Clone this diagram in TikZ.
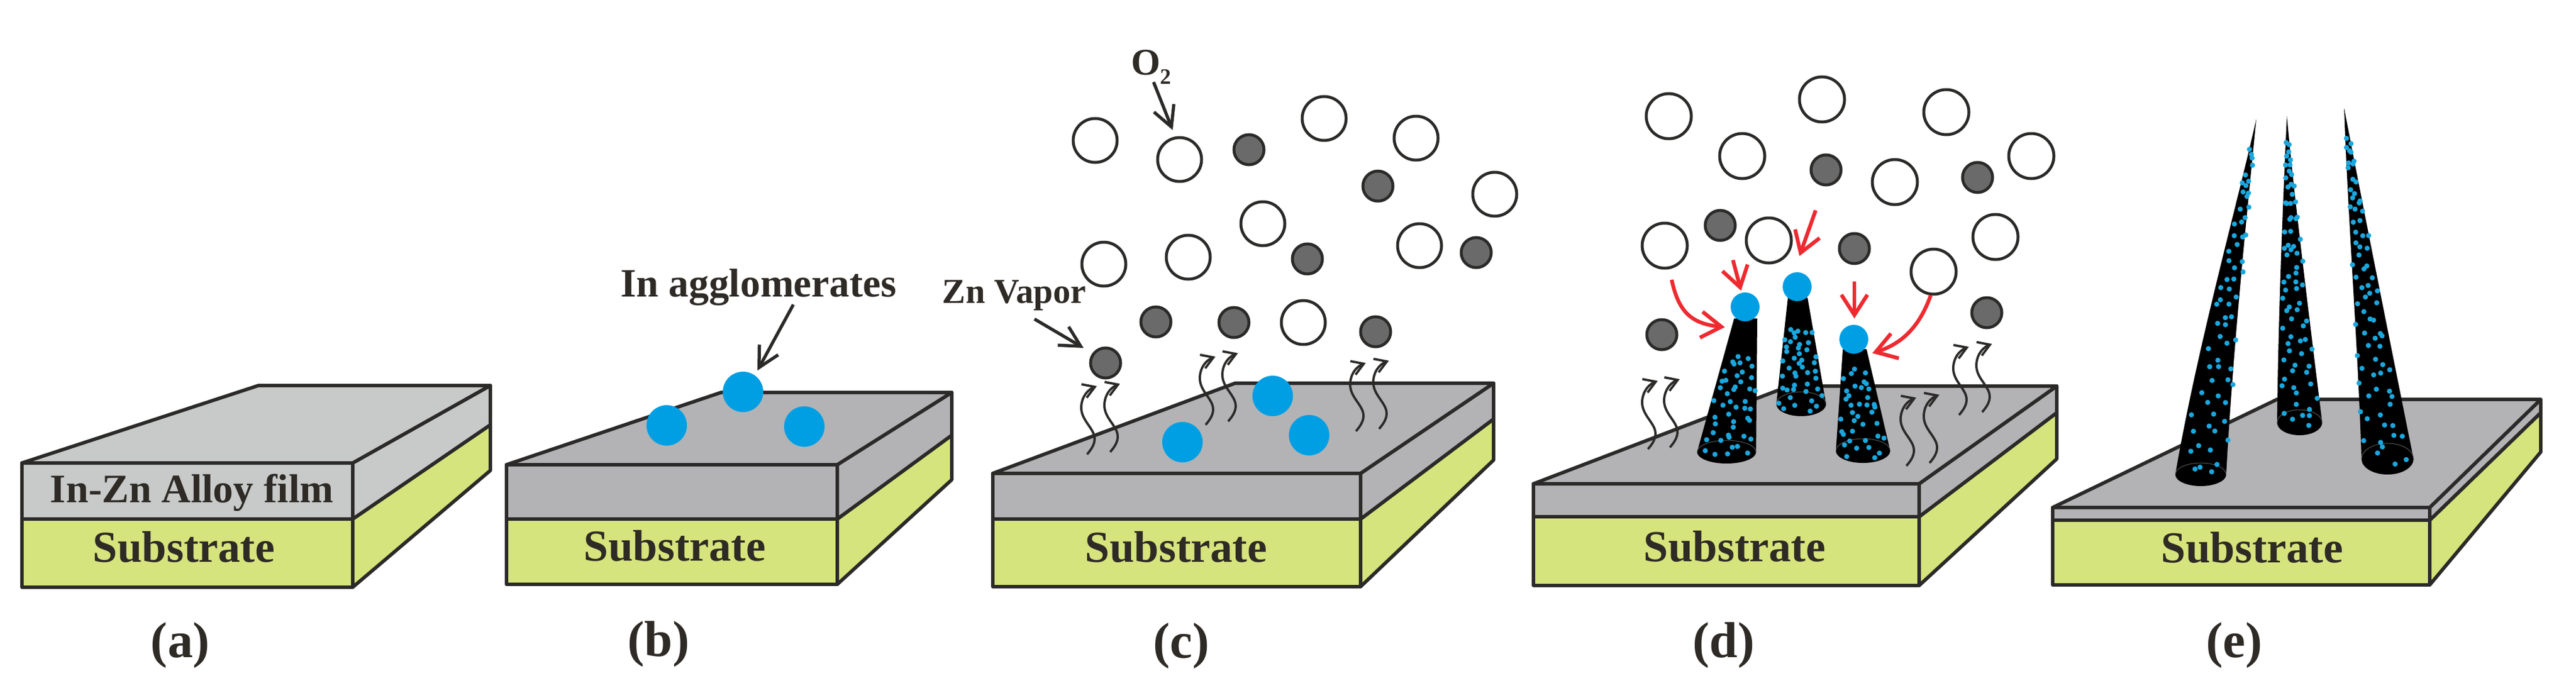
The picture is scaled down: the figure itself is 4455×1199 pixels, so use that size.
\documentclass[tikz,border=0pt]{standalone}
\usepackage{fontspec}
\setmainfont{Liberation Serif}
\usetikzlibrary{arrows.meta}
\definecolor{inkline}{HTML}{2B2A29}
\definecolor{inktext}{HTML}{2E2A25}
\definecolor{filma}{HTML}{C8CACA}
\definecolor{filmb}{HTML}{B3B3B5}
\definecolor{subst}{HTML}{D5E47C}
\definecolor{agglo}{HTML}{009FE3}
\definecolor{dotblue}{HTML}{1AA7DE}
\definecolor{zinc}{HTML}{6A6A6A}
\definecolor{redarrow}{HTML}{EE2A30}
\tikzset{
  face/.style={draw=inkline,line width=1.2pt,line join=round},
  lab/.style={inner sep=0pt,text=inktext,font=\bfseries},
  subname/.style={lab,font=\fontsize{15.3}{18}\selectfont\bfseries},
  tag/.style={lab,font=\fontsize{17.5}{20}\selectfont\bfseries},
  oxy/.style={draw=inkline,line width=1pt,fill=white},
  zn/.style={draw=inkline,line width=1pt,fill=zinc},
  blob/.style={fill=agglo},
  wave/.style={draw=inkline,line width=.8pt,-{Straight Barb[length=4pt,width=5pt]}},
  point/.style={draw=inkline,line width=1.1pt,-{Straight Barb[length=7pt,width=7.4pt]}},
  red/.style={draw=redarrow,line width=1.3pt,-{Straight Barb[length=7pt,width=9pt]}},
  cone/.style={fill=black},
  rim/.style={draw=black!65,line width=.2pt},
  speck/.style={fill=dotblue},
}
% one wavy vapour line, tail at #1,#2
\newcommand\wavy[2]{\draw[wave,shift={(#1,#2)}] (0,0) .. controls (12,-14) and (18,-26) .. (8,-42) .. controls (0,-56) and (-14,-68) .. (-9,-90) .. controls (-6,-104) and (4,-113) .. (17,-118);}
% specks on a cone: base x,y, half width, top x,y, half width, count, reach
\newcommand\specks[8]{%
  \foreach \k in {1,...,#7}{
    \pgfmathsetmacro\dotT{(\k-.5+1.5*rand)/#7*#8}
    \pgfmathsetmacro\dotU{2*mod(\k*.618034,1)-1+.25*rand}
    \pgfmathsetmacro\dotU{max(-1,min(1,\dotU))}
    \pgfmathsetmacro\dotX{#1+\dotT*(#4-#1)+\dotU*.97*(#3+\dotT*(#6-#3))}
    \pgfmathsetmacro\dotY{#2+\dotT*(#5-#2)+10*(1-\dotT)}
    \fill[speck] (\dotX,\dotY) circle[radius=4.5];
  }}
\begin{document}
\begin{tikzpicture}[x=.2pt,y=-.2pt]
\useasboundingbox (0,0) rectangle (4455,1199);

% the five slabs
\foreach \xl/\xr/\yt/\ym/\yb/\bx/\by/\brx/\yrf/\yrb/\fc in {
  38/610/801/898/1016/447/667/848/735/814/filma,
  876/1448/804/898/1011/1247/679/1646/753/830/filmb,
  1717/2353/819/898/1015/2136/663/2583/725/796/filmb,
  2652/3319/837/894/1013/3094/668/3557/714/794/filmb,
  3550/4202/878/900/1012/3938/691/4394/714/782/filmb}{
  \draw[face,fill=subst] (\xl,\ym) rectangle (\xr,\yb);
  \draw[face,fill=subst] (\xr,\ym) -- (\brx,\yrf) -- (\brx,\yrb) -- (\xr,\yb) -- cycle;
  \draw[face,fill=\fc] (\xl,\yt) rectangle (\xr,\ym);
  \draw[face,fill=\fc] (\xr,\yt) -- (\brx,\by) -- (\brx,\yrf) -- (\xr,\ym) -- cycle;
  \draw[face,fill=\fc] (\xl,\yt) -- (\bx,\by) -- (\brx,\by) -- (\xr,\yt) -- cycle;
}

% texts on the slabs and panel letters
\node[lab,font=\fontsize{14}{17}\selectfont\bfseries] (film) at (332,852) {In-Zn Alloy film};
\foreach \p/\sx/\sy/\lx/\ly in {a/318/946/312/1116, b/1167/944/1139/1114, c/2034/946/2043/1117, d/3000/945/2981/1116, e/3895/947/3864/1116}{
  \node[subname] (sub\p) at (\sx,\sy) {Substrate};
  \node[tag] (tag\p) at (\lx,\ly) {(\p)};
}

% panel b
\foreach \x/\y in {1153/736,1285/678,1391/738} {\fill[blob] (\x,\y) circle[radius=35];}
\node[lab,font=\fontsize{13.9}{16}\selectfont\bfseries] (inagg) at (1312,497) {In agglomerates};
\coordinate (inaggend) at (1310,641);
\draw[point] (1372,527) -- (inaggend);

% panel c
\foreach \x/\y in {2045/765,2201/685,2264/753} {\fill[blob] (\x,\y) circle[radius=35];}
\foreach \x/\y in {1894/243,2040/276,2290/205,2449/239,2585/336,2184/387,2455/425,2055/445,1909/457,2254/558}
  {\draw[oxy] (\x,\y) circle[radius=38];}
\foreach \x/\y in {2160/259,2383/322,2261/448,2553/437,1999/557,2134/558,2379/574,1912/628}
  {\draw[zn] (\x,\y) circle[radius=26];}
\node[lab,anchor=base,font=\fontsize{13}{16}\selectfont\bfseries] (otwo) at (1991,129) {O\raisebox{-3.2pt}{\fontsize{7.6}{9}\selectfont 2}};
\coordinate (otwoend) at (2028,225);
\draw[point] (1995,142) -- (otwoend);
\node[lab,font=\fontsize{12.1}{14}\selectfont\bfseries] (znv) at (1754,511) {Zn Vapor};
\coordinate (znvend) at (1874,602);
\draw[point] (1789,552) -- (znvend);
\foreach \x/\y in {1880/786,1920/782,2085/735,2124/729,2345/746,2385/742} {\wavy{\x}{\y}}

% panel d
\foreach \x/\y in {2850/777,2888/774,3297/806,3337/801,3388/718,3428/713} {\wavy{\x}{\y}}
\foreach \x/\y in {2886/201,3013/270,3151/172,3366/194,3277/315,3513/270,2879/425,3059/416,3451/410,3344/470}
  {\draw[oxy] (\x,\y) circle[radius=39];}
\foreach \x/\y in {3158/294,3420/307,2975/390,3207/430,2874/579,3436/541}
  {\draw[zn] (\x,\y) circle[radius=26];}
\pgfmathsetseed{4711}
\fill[cone] (2999,551) -- (3039,551) -- (3037,782) arc[start angle=0,end angle=180,x radius=51,y radius=20] -- cycle;
\draw[rim] (2935,782) arc[start angle=180,end angle=360,x radius=51,y radius=20];
\specks{2986}{782}{49}{3019}{551}{19}{46}{.74}
\fill[cone] (3092,515) -- (3126,515) -- (3158,699) arc[start angle=0,end angle=180,x radius=43,y radius=21] -- cycle;
\draw[rim] (3072,699) arc[start angle=180,end angle=360,x radius=43,y radius=21];
\specks{3115}{699}{41}{3109}{515}{16}{44}{.74}
\fill[cone] (3187,604) -- (3228,604) -- (3269,780) arc[start angle=0,end angle=180,x radius=47,y radius=21] -- cycle;
\draw[rim] (3175,780) arc[start angle=180,end angle=360,x radius=47,y radius=21];
\specks{3222}{780}{45}{3207}{604}{19}{38}{.8}
\foreach \x/\y in {3018/531,3108/496,3206/587} {\fill[blob] (\x,\y) circle[radius=25];}
\coordinate (rone) at (2983,566);
\coordinate (rtwo) at (3011,503);
\coordinate (rthree) at (3112,443);
\coordinate (rfour) at (3207,551);
\coordinate (rfive) at (3238,611);
\draw[red] (2891,484) .. controls (2903,540) and (2925,560) .. (rone);
\draw[red] (2997,450) -- (rtwo);
\draw[red] (3140,364) -- (rthree);
\draw[red] (3207,487) -- (rfour);
\draw[red] (3339,511) .. controls (3318,570) and (3285,596) .. (rfive);

% panel e
\fill[cone] (3902,206) .. controls (3885,380) and (3862,600) .. (3850,821) arc[start angle=0,end angle=180,x radius=44,y radius=20] .. controls (3800,600) and (3870,350) .. cycle;
\draw[rim] (3762,821) arc[start angle=180,end angle=360,x radius=44,y radius=20];
\specks{3806}{821}{42}{3902}{206}{1}{66}{.92}
\fill[cone] (3955,200) .. controls (3965,320) and (3995,560) .. (4016,731) arc[start angle=0,end angle=180,x radius=39,y radius=22] .. controls (3940,550) and (3948,350) .. cycle;
\draw[rim] (3938,731) arc[start angle=180,end angle=360,x radius=39,y radius=22];
\specks{3977}{731}{37}{3955}{200}{1}{74}{.92}
\fill[cone] (4054,187) .. controls (4085,350) and (4135,600) .. (4174,794) arc[start angle=0,end angle=180,x radius=45,y radius=27] .. controls (4078,600) and (4060,370) .. cycle;
\draw[rim] (4084,794) arc[start angle=180,end angle=360,x radius=45,y radius=27];
\specks{4129}{794}{43}{4054}{187}{1}{76}{.92}
\end{tikzpicture}
\end{document}
